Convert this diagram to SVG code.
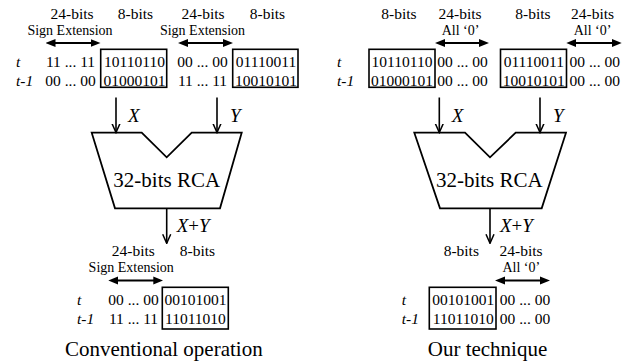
<svg xmlns="http://www.w3.org/2000/svg" width="632" height="364" viewBox="0 0 632 364">
  <style>
    text { font-family: "Liberation Serif", "Times New Roman", serif; fill: #000; }
    .hdr { font-size: 15.5px; text-anchor: middle; }
    .sub { font-size: 14px; text-anchor: middle; }
    .bits { font-size: 15.5px; text-anchor: middle; }
    .lbl { font-size: 15.5px; font-style: italic; }
    .var { font-size: 19px; font-style: italic; }
    .rca { font-size: 21px; text-anchor: middle; }
    .cap { font-size: 21px; text-anchor: middle; }
    .box { fill: none; stroke: #000; stroke-width: 1.6; }
    .adder { fill: #fff; stroke: #000; stroke-width: 1.8; stroke-linejoin: miter; }
    .span { stroke: #000; stroke-width: 2; fill: none; marker-start: url(#head); marker-end: url(#head); }
    .flow { stroke: #000; stroke-width: 1.6; fill: none; marker-end: url(#down); }
  </style>
  <defs>
    <marker id="head" viewBox="0 0 10 10" markerUnits="userSpaceOnUse" markerWidth="10" markerHeight="10" refX="6" refY="5" orient="auto-start-reverse">
      <path d="M0,1 L10,5 L0,9 Z" fill="#000"/>
    </marker>
    <marker id="down" viewBox="0 0 10 10" markerUnits="userSpaceOnUse" markerWidth="10" markerHeight="10" refX="9" refY="5" orient="auto">
      <path d="M0,1 L9,5 L0,9" fill="none" stroke="#000" stroke-width="1.5"/>
    </marker>
  </defs>

  <!-- Conventional operation: operand X -->
  <g id="conv-x">
    <text class="hdr" x="72" y="18.5">24-bits</text>
    <text class="hdr" x="135.5" y="18.5">8-bits</text>
    <text class="sub" x="70" y="34.5">Sign Extension</text>
    <text class="lbl" x="16" y="67">t</text>
    <text class="lbl" x="16" y="85.5">t-1</text>
    <text class="bits" x="70.5" y="67">11 ... 11</text>
    <text class="bits" x="70.5" y="85.5">00 ... 00</text>
    <rect class="box" x="100.7" y="49.3" width="66" height="38"/>
    <text class="bits" x="134.5" y="67">10110110</text>
    <text class="bits" x="134.5" y="85.5">01000101</text>
  </g>

  <!-- Conventional operation: operand Y -->
  <g id="conv-y">
    <text class="hdr" x="203" y="18.5">24-bits</text>
    <text class="hdr" x="267.5" y="18.5">8-bits</text>
    <text class="sub" x="202.5" y="34.5">Sign Extension</text>
    <text class="bits" x="202.5" y="67">00 ... 00</text>
    <text class="bits" x="202.5" y="85.5">11 ... 11</text>
    <rect class="box" x="232.7" y="49.3" width="65.3" height="38"/>
    <text class="bits" x="266" y="67">01110011</text>
    <text class="bits" x="266" y="85.5">10010101</text>
  </g>

  <!-- Conventional operation: adder -->
  <g id="conv-rca">
    <path class="adder" d="M91.7,132.7 L141.7,132.7 L166.7,157.3 L191.7,132.7 L241.7,132.7 L220,208.3 L115,208.3 Z"/>
    <text class="rca" x="166.7" y="187">32-bits RCA</text>
  </g>

  <!-- Conventional operation: result -->
  <g id="conv-sum">
    <text class="hdr" x="133.3" y="255.5">24-bits</text>
    <text class="hdr" x="197.5" y="255.5">8-bits</text>
    <text class="sub" x="131.2" y="271.5">Sign Extension</text>
    <text class="lbl" x="77" y="304.5">t</text>
    <text class="lbl" x="77" y="324">t-1</text>
    <text class="bits" x="133.5" y="304.5">00 ... 00</text>
    <text class="bits" x="133.5" y="324">11 ... 11</text>
    <rect class="box" x="162.3" y="287.3" width="66" height="41.7"/>
    <text class="bits" x="195.4" y="304.5">00101001</text>
    <text class="bits" x="195.4" y="324">11011010</text>
    <text class="cap" x="163.8" y="356">Conventional operation</text>
  </g>

  <!-- Our technique: operand X -->
  <g id="ours-x">
    <text class="hdr" x="399" y="18.5">8-bits</text>
    <text class="hdr" x="460" y="18.5">24-bits</text>
    <text class="sub" x="460.5" y="34.5">All ‘0’</text>
    <text class="lbl" x="337" y="67">t</text>
    <text class="lbl" x="337" y="85.5">t-1</text>
    <rect class="box" x="369" y="49.3" width="66" height="38"/>
    <text class="bits" x="402" y="67">10110110</text>
    <text class="bits" x="402" y="85.5">01000101</text>
    <text class="bits" x="462.5" y="67">00 ... 00</text>
    <text class="bits" x="462.5" y="85.5">00 ... 00</text>
  </g>

  <!-- Our technique: operand Y -->
  <g id="ours-y">
    <text class="hdr" x="533" y="18.5">8-bits</text>
    <text class="hdr" x="592.5" y="18.5">24-bits</text>
    <text class="sub" x="592.5" y="34.5">All ‘0’</text>
    <rect class="box" x="500.5" y="49.3" width="66" height="38"/>
    <text class="bits" x="533.8" y="67">01110011</text>
    <text class="bits" x="533.8" y="85.5">10010101</text>
    <text class="bits" x="594.8" y="67">00 ... 00</text>
    <text class="bits" x="594.8" y="85.5">00 ... 00</text>
  </g>

  <!-- Our technique: adder -->
  <g id="ours-rca">
    <path class="adder" d="M414.3,132.7 L465,132.7 L490,157.3 L515.7,132.7 L566,132.7 L541.7,208.3 L440,208.3 Z"/>
    <text class="rca" x="489.3" y="187">32-bits RCA</text>
  </g>

  <!-- Our technique: result -->
  <g id="ours-sum">
    <text class="hdr" x="461.3" y="255.5">8-bits</text>
    <text class="hdr" x="521" y="255.5">24-bits</text>
    <text class="sub" x="521.3" y="271.5">All ‘0’</text>
    <text class="lbl" x="401.7" y="304.5">t</text>
    <text class="lbl" x="401.7" y="324">t-1</text>
    <rect class="box" x="429.3" y="287.3" width="66.7" height="41.7"/>
    <text class="bits" x="463.3" y="304.5">00101001</text>
    <text class="bits" x="463.3" y="324">11011010</text>
    <text class="bits" x="525" y="304.5">00 ... 00</text>
    <text class="bits" x="525" y="324">00 ... 00</text>
    <text class="cap" x="487.5" y="356">Our technique</text>
  </g>

  <!-- Connectors: bit-span arrows and data flow -->
  <g id="connectors">
    <line class="span" x1="49.5" y1="43" x2="96.5" y2="43"/>
    <line class="span" x1="182" y1="43" x2="229" y2="43"/>
    <line class="span" x1="112.3" y1="280.5" x2="159.3" y2="280.5"/>
    <line class="span" x1="439" y1="43" x2="485" y2="43"/>
    <line class="span" x1="570.3" y1="43" x2="617.7" y2="43"/>
    <line class="span" x1="499" y1="280.5" x2="546" y2="280.5"/>

    <line class="flow" x1="116" y1="97.5" x2="116" y2="132.5"/>
    <line class="flow" x1="217" y1="97.5" x2="217" y2="132.5"/>
    <line class="flow" x1="166.7" y1="208.3" x2="166.7" y2="243.3"/>
    <line class="flow" x1="439.3" y1="97.5" x2="439.3" y2="132.5"/>
    <line class="flow" x1="540" y1="97.5" x2="540" y2="132.5"/>
    <line class="flow" x1="490" y1="208.3" x2="490" y2="243.3"/>

    <text class="var" x="128" y="122">X</text>
    <text class="var" x="230" y="122">Y</text>
    <text class="var" x="176.7" y="232">X<tspan font-style="normal">+</tspan>Y</text>
    <text class="var" x="451.7" y="122">X</text>
    <text class="var" x="553" y="122">Y</text>
    <text class="var" x="500" y="232">X<tspan font-style="normal">+</tspan>Y</text>
  </g>
</svg>
